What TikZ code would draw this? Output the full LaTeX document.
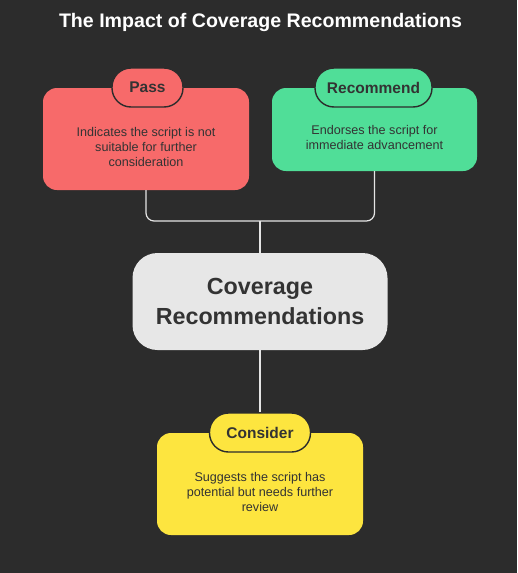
\documentclass[tikz,border=0pt]{standalone}
\usepackage{fontspec}
\setmainfont{Liberation Sans}
\usetikzlibrary{positioning}

\definecolor{bgdark}{HTML}{2C2C2C}
\definecolor{passred}{HTML}{F76A6A}
\definecolor{recgreen}{HTML}{50DE98}
\definecolor{conyellow}{HTML}{FDE53F}
\definecolor{covgrey}{HTML}{E7E7E7}
\definecolor{inkdark}{HTML}{333333}

\tikzset{
  cardbox/.style={rounded corners=14pt, inner sep=0pt, minimum width=206pt},
  pill/.style={draw=bgdark, line width=1.4pt, rounded corners=19pt, inner sep=0pt, minimum height=39pt, font=\fontsize{15.5}{18}\selectfont\bfseries, text=inkdark},
  bodytext/.style={align=center, font=\fontsize{12.6}{15}\selectfont, text=inkdark},
  link/.style={draw=white!90!black, line width=1.2pt}
}

\begin{document}
\begin{tikzpicture}[x=1pt,y=-1pt]
% background and title
\fill[bgdark] (0,0) rectangle (517,573);
\useasboundingbox (0,0) rectangle (517,573);
\node[text=white, font=\fontsize{19.6}{22}\selectfont\bfseries] (title) at (260.5,22) {The Impact of Coverage Recommendations};

% outcome cards
\node[cardbox, fill=passred, minimum height=102pt] (pass) at (146,139) {};
\node[cardbox, fill=recgreen, minimum height=83pt, minimum width=205pt] (rec) at (374.5,129.5) {};
\node[cardbox, fill=conyellow, minimum height=102pt] (con) at (260,484) {};
\node[fill=covgrey, rounded corners=25pt, minimum width=255pt, minimum height=97pt, inner sep=0pt,
      align=center, font=\fontsize{23.3}{30}\selectfont\bfseries, text=inkdark] (cov) at (260,301.5) {Coverage\\Recommendations};

% card texts
\node[bodytext] (passtxt) at (146,147) {Indicates the script is not\\suitable for further\\consideration};
\node[bodytext] (rectxt) at (374.5,137.5) {Endorses the script for\\immediate advancement};
\node[bodytext] (contxt) at (260,492) {Suggests the script has\\potential but needs further\\review};

% labels on the cards
\node[pill, fill=passred, minimum width=71pt] (passlbl) at (147.5,87.5) {Pass};
\node[pill, fill=recgreen, minimum width=117pt] (reclbl) at (373.5,87.5) {Recommend};
\node[pill, fill=conyellow, minimum width=101pt] (conlbl) at (260,432.5) {Consider};

% connectors
\coordinate (fork) at (260,221);
\draw[link, rounded corners=8pt] (pass.south) |- (fork) -| (rec.south);
\draw[link] (fork) -- (cov.north);
\draw[link] (cov.south) -- (conlbl.north);

\end{tikzpicture}
\end{document}
